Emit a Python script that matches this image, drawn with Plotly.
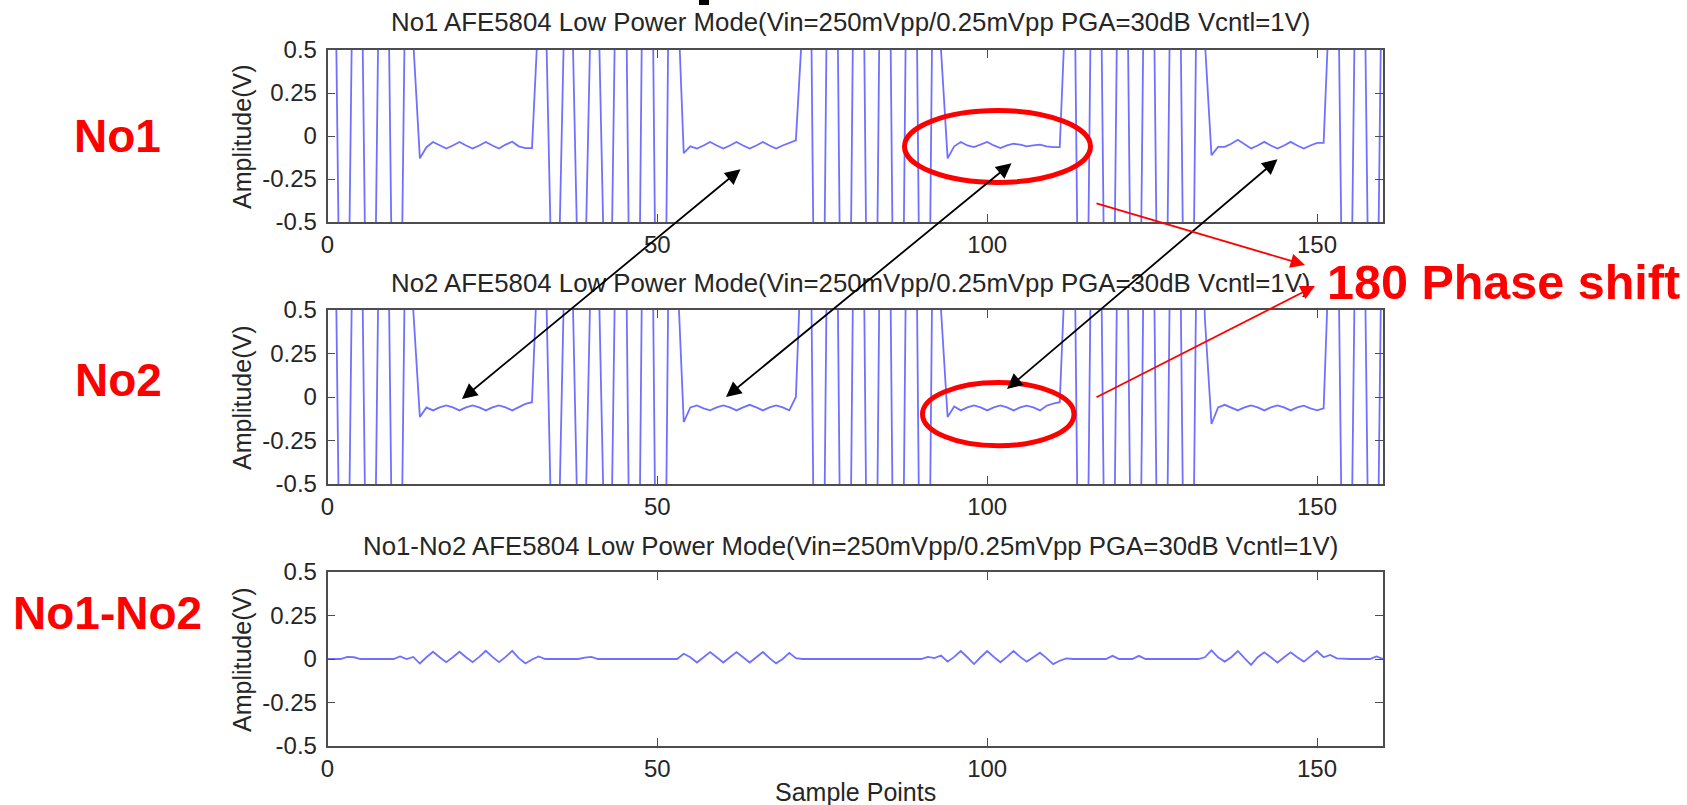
import plotly.graph_objects as go

W, H = 1687, 805

# ---------------- data ----------------
sample_points = list(range(161))

no1_values = [
    # 0-13 burst
    1.6, 1.6, -1.6, -1.6, 1.6, 1.6, -1.6, -1.6, 1.6, 1.6, -1.6, -1.6, 1.6, 0.55,
    # 14-31 quiet
    -0.13, -0.065, -0.035, -0.055, -0.073, -0.055, -0.035, -0.055, -0.073,
    -0.055, -0.035, -0.055, -0.073, -0.05, -0.033, -0.06, -0.07, -0.07,
    # 32-53 burst
    0.73, 0.9, -0.9, -0.9, 0.9, 0.9, -0.9, -0.9, 0.9, 0.9, -0.9, -0.9,
    1.8, 1.8, -1.8, -2.0, 2.0, 2.0, -2.0, -2.0, 2.0, 0.9,
    # 54-71 quiet
    -0.10, -0.06, -0.073, -0.055, -0.035, -0.055, -0.073, -0.055, -0.035,
    -0.055, -0.073, -0.055, -0.035, -0.055, -0.073, -0.055, -0.04, -0.025,
    # 72-93 burst
    0.65, 2.0, -2.0, -2.0, 2.0, 2.0, -2.0, -2.0, 2.0, 2.0, -2.0, -2.0,
    2.0, 2.0, -2.0, -2.0, 2.0, 2.0, -2.0, -2.0, 2.0, 0.5,
    # 94-111 quiet
    -0.13, -0.06, -0.035, -0.055, -0.065, -0.05, -0.035, -0.055, -0.07,
    -0.055, -0.045, -0.05, -0.06, -0.055, -0.05, -0.06, -0.065, -0.065,
    # 112-133 burst
    0.85, 1.8, -1.8, -1.8, 1.8, 1.8, -1.8, -1.8, 1.8, 1.8, -1.8, -1.8,
    1.8, 1.8, -1.8, -1.8, 1.8, 1.8, -1.8, -1.8, 1.8, 0.55,
    # 134-151 quiet
    -0.112, -0.063, -0.063, -0.045, -0.022, -0.05, -0.073, -0.055, -0.034,
    -0.055, -0.073, -0.055, -0.034, -0.055, -0.073, -0.055, -0.04, -0.04,
    # 152-160 burst
    0.9, 1.6, -1.6, -1.6, 1.6, 1.6, -1.6, -1.6, 1.6,
]

no2_values = [
    # 0-13 burst
    1.6, 1.6, -1.6, -1.6, 1.6, 1.6, -1.6, -1.6, 1.6, 1.6, -1.6, -1.6, 1.6, 0.5,
    # 14-31 quiet
    -0.115, -0.06, -0.077, -0.06, -0.048, -0.06, -0.077, -0.06, -0.048,
    -0.06, -0.077, -0.06, -0.048, -0.06, -0.077, -0.06, -0.04, -0.03,
    # 32-53 burst
    0.9, 0.9, -0.9, -0.9, 0.9, 0.9, -0.9, -0.9, 0.9, 0.9, -0.9, -0.9,
    1.8, 1.8, -1.8, -2.0, 2.0, 2.0, -2.0, -2.0, 2.0, 0.75,
    # 54-71 quiet
    -0.144, -0.06, -0.048, -0.065, -0.077, -0.06, -0.048, -0.06, -0.077,
    -0.06, -0.045, -0.06, -0.077, -0.06, -0.048, -0.06, -0.077, 0.0,
    # 72-93 burst
    1.0, 2.0, -2.0, -2.0, 2.0, 2.0, -2.0, -2.0, 2.0, 2.0, -2.0, -2.0,
    2.0, 2.0, -2.0, -2.0, 2.0, 2.0, -2.0, -2.0, 2.0, 0.5,
    # 94-111 quiet
    -0.115, -0.055, -0.077, -0.06, -0.048, -0.06, -0.077, -0.06, -0.048,
    -0.06, -0.077, -0.06, -0.05, -0.06, -0.077, -0.05, -0.038, -0.03,
    # 112-133 burst
    0.9, 1.8, -1.8, -1.8, 1.8, 1.8, -1.8, -1.8, 1.8, 1.8, -1.8, -1.8,
    1.8, 1.8, -1.8, -1.8, 1.8, 1.8, -1.8, -1.8, 1.8, 0.45,
    # 134-151 quiet
    -0.155, -0.06, -0.045, -0.06, -0.077, -0.06, -0.048, -0.06, -0.077,
    -0.06, -0.048, -0.06, -0.077, -0.06, -0.05, -0.065, -0.077, -0.065,
    # 152-160 burst
    1.0, 1.6, -1.6, -1.6, 1.6, 1.6, -1.6, -1.6, 1.6,
]

diff_values = [
    # 0-13
    0, 0, 0, 0.012, 0.01, 0, 0, 0, 0, 0, 0, 0.015, 0, 0.012,
    # 14-31
    -0.026, 0.01, 0.042, 0.01, -0.018, 0.01, 0.042, 0.01, -0.018,
    0.012, 0.047, 0.012, -0.018, 0.012, 0.047, 0.005, -0.026, -0.003,
    # 32-53
    0.015, 0, 0, 0, 0, 0, 0, 0.008, 0.012, 0, 0, 0, 0, 0, 0, 0, 0, 0, 0, 0, 0, 0,
    # 54-71
    0.03, 0.01, -0.02, 0.01, 0.04, 0.01, -0.02, 0.01, 0.04,
    0.01, -0.02, 0.01, 0.04, 0.005, -0.025, 0.0, 0.035, 0.005,
    # 72-93
    0, 0, 0, 0, 0, 0, 0, 0, 0, 0, 0, 0, 0, 0, 0, 0, 0, 0, 0, 0.012, 0.005, 0.02,
    # 94-111
    -0.015, 0.012, 0.046, 0.01, -0.029, 0.01, 0.046, 0.012, -0.019,
    0.012, 0.046, 0.012, -0.015, 0.01, 0.036, 0.005, -0.029, -0.01,
    # 112-133
    0.004, 0, 0, 0, 0, 0, 0, 0.018, 0, 0, 0, 0.018, 0, 0, 0, 0, 0, 0, 0, 0, 0, 0.01,
    # 134-151
    0.05, 0.01, -0.015, 0.01, 0.046, 0.005, -0.034, 0.01, 0.038,
    0.01, -0.021, 0.01, 0.038, 0.01, -0.015, 0.015, 0.046, 0.01,
    # 152-160
    0.023, 0.004, 0, 0, 0, 0, 0, 0.015, 0,
]

x_tick_values = [0, 50, 100, 150]
y_tick_values = [-0.5, -0.25, 0, 0.25, 0.5]
y_tick_labels = ["-0.5", "-0.25", "0", "0.25", "0.5"]

subplot_titles = [
    "No1 AFE5804 Low Power Mode(Vin=250mVpp/0.25mVpp PGA=30dB Vcntl=1V)",
    "No2 AFE5804 Low Power Mode(Vin=250mVpp/0.25mVpp PGA=30dB Vcntl=1V)",
    "No1-No2 AFE5804 Low Power Mode(Vin=250mVpp/0.25mVpp PGA=30dB Vcntl=1V)",
]
side_labels = ["No1", "No2", "No1-No2"]
y_axis_title = "Amplitude(V)"
x_axis_title = "Sample Points"
phase_label = "180 Phase shift"

# ---------------- layout geometry (pixels) ----------------
PLOT_L, PLOT_R = 327.5, 1383.0
PANELS = [(50, 222), (310, 484), (572, 746)]  # (top, bottom) in px

FONT = "Liberation Sans, Arial, sans-serif"
AX = "#4d4d4d"
BLUE = "rgb(112,112,255)"
RED = "#ff0000"


def px(x):
    return x / W


def py(y):
    return 1 - y / H


fig = go.Figure()
series = [no1_values, no2_values, diff_values]
layout_axes = {}
for i, ys in enumerate(series):
    n = "" if i == 0 else str(i + 1)
    fig.add_trace(go.Scatter(
        x=sample_points, y=ys, mode="lines",
        line=dict(color=BLUE, width=1.8),
        xaxis="x" + n, yaxis="y" + n, hoverinfo="skip",
    ))
    top, bot = PANELS[i]
    common = dict(
        showgrid=False, zeroline=False, showline=True, linecolor=AX,
        linewidth=1.5, mirror="ticks", ticks="inside", ticklen=8,
        tickwidth=1.4, tickcolor=AX, automargin=False,
        tickfont=dict(family=FONT, size=24, color="#262626"),
    )
    layout_axes["xaxis" + n] = dict(
        common, domain=[px(PLOT_L), px(PLOT_R)], range=[0, 160],
        tickvals=x_tick_values, ticktext=[str(v) for v in x_tick_values],
        anchor="y" + n, fixedrange=True,
    )
    layout_axes["yaxis" + n] = dict(
        common, domain=[py(bot), py(top)], range=[-0.5, 0.5],
        tickvals=y_tick_values, ticktext=y_tick_labels,
        anchor="x" + n, fixedrange=True, ticklabelstandoff=4,
    )

annotations = []
title_y = [22, 283, 546]
label_y = [136, 380, 613]
label_x = [117, 118, 108]
for i in range(3):
    top, bot = PANELS[i]
    annotations.append(dict(
        text=subplot_titles[i], x=px(850), y=py(title_y[i]),
        xref="paper", yref="paper", showarrow=False,
        xanchor="center", yanchor="middle",
        font=dict(family=FONT, size=25.8, color="#262626"),
    ))
    annotations.append(dict(
        text=y_axis_title, x=px(242), y=py((top + bot) / 2),
        xref="paper", yref="paper", showarrow=False, textangle=-90,
        xanchor="center", yanchor="middle",
        font=dict(family=FONT, size=25, color="#262626"),
    ))
    annotations.append(dict(
        text="<b>%s</b>" % side_labels[i], x=px(label_x[i]), y=py(label_y[i]),
        xref="paper", yref="paper", showarrow=False,
        xanchor="center", yanchor="middle",
        font=dict(family=FONT, size=46, color=RED),
    ))

annotations.append(dict(
    text=x_axis_title, x=px(855), y=py(792),
    xref="paper", yref="paper", showarrow=False,
    xanchor="center", yanchor="middle",
    font=dict(family=FONT, size=25, color="#262626"),
))
annotations.append(dict(
    text="<b>%s</b>" % phase_label, x=px(1503), y=py(282),
    xref="paper", yref="paper", showarrow=False,
    xanchor="center", yanchor="middle",
    font=dict(family=FONT, size=48.5, color=RED),
))


def arrow(tail, head, color, width, size, both=False):
    return dict(
        x=px(head[0]), y=py(head[1]), xref="paper", yref="paper",
        ax=tail[0] - head[0], ay=tail[1] - head[1],
        axref="pixel", ayref="pixel", text="", showarrow=True,
        arrowhead=2, arrowsize=size, arrowwidth=width, arrowcolor=color,
        arrowside="end+start" if both else "end",
        startarrowhead=2, startarrowsize=size,
        standoff=0, startstandoff=0,
    )


annotations += [
    arrow((742, 168), (462, 399), "black", 1.8, 1.7, both=True),
    arrow((1013, 162), (726, 397), "black", 1.8, 1.7, both=True),
    arrow((1279, 158), (1007, 389), "black", 1.8, 1.7, both=True),
    arrow((1095, 203), (1305, 265), RED, 1.8, 1.6),
    arrow((1095, 398), (1315, 286), RED, 1.8, 1.6),
]

shapes = [
    dict(type="circle", xref="paper", yref="paper",
         x0=px(904.5), x1=px(1090.5), y0=py(182.5), y1=py(110.5),
         line=dict(color=RED, width=5)),
    dict(type="circle", xref="paper", yref="paper",
         x0=px(922.5), x1=px(1074), y0=py(445.8), y1=py(382.5),
         line=dict(color=RED, width=5)),
    dict(type="rect", xref="paper", yref="paper",
         x0=px(699), x1=px(709), y0=py(5), y1=py(0),
         line=dict(width=0), fillcolor="black"),
]

fig.update_layout(
    width=W, height=H, autosize=False,
    margin=dict(l=0, r=0, t=0, b=0, pad=0, autoexpand=False),
    paper_bgcolor="white", plot_bgcolor="white",
    showlegend=False, annotations=annotations, shapes=shapes,
    **layout_axes,
)

# make the page exactly the figure: no body margin, nothing else in flow
page_fix = (
    "var st='margin:0;padding:0;overflow:hidden;width:1687px;height:805px;"
    "position:relative;line-height:0;font-size:0;';"
    "document.documentElement.style.cssText=st;"
    "document.body.style.cssText=st;"
    "var gd=document.getElementById('{plot_id}');"
    "gd.parentNode.style.cssText=st;"
    "gd.style.position='absolute';gd.style.left='0px';gd.style.top='0px';"
    "window.scrollTo(0,0);"
)

fig.write_html("out.html", config={"displayModeBar": False},
               post_script=page_fix)
